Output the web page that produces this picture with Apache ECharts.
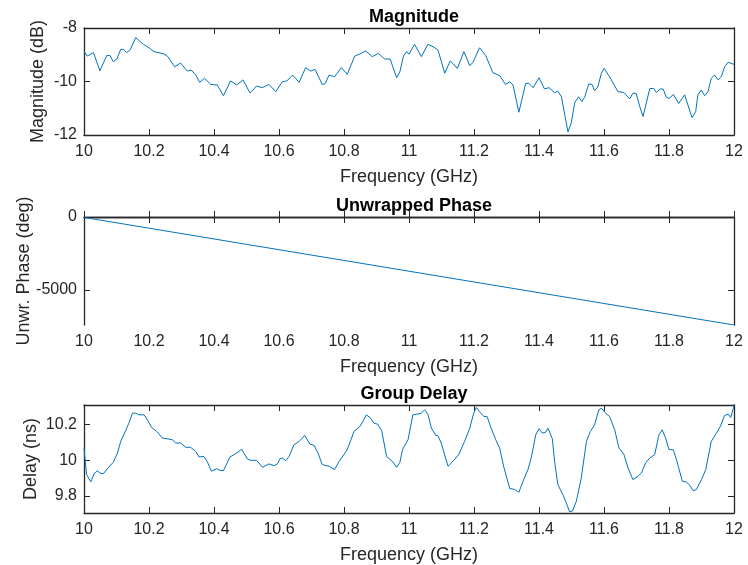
<!DOCTYPE html>
<html><head><meta charset="utf-8">
<script src="https://cdn.jsdelivr.net/npm/echarts@6/dist/echarts.min.js"></script>
<style>html,body{margin:0;padding:0;background:#fff}#c{width:748px;height:565px}</style>
</head><body><div id="c"></div>
<script>
const xTicks = ['10','10.2','10.4','10.6','10.8','11','11.2','11.4','11.6','11.8','12'];
const titles = ['Magnitude','Unwrapped Phase','Group Delay'];
const yNames = ['Magnitude (dB)','Unwr. Phase (deg)','Delay (ns)'];
const xName = 'Frequency (GHz)';

const magFreq = [10.000,10.010,10.029,10.049,10.070,10.080,10.090,10.101,10.113,10.121,10.131,10.142,10.159,10.169,10.183,10.200,10.215,10.246,10.258,10.279,10.297,10.318,10.330,10.344,10.356,10.371,10.390,10.410,10.429,10.451,10.470,10.489,10.511,10.531,10.549,10.569,10.590,10.610,10.624,10.642,10.662,10.682,10.697,10.711,10.733,10.742,10.754,10.771,10.792,10.810,10.833,10.849,10.867,10.887,10.906,10.925,10.942,10.962,10.972,10.983,10.993,11.000,11.017,11.038,11.058,11.074,11.089,11.110,11.127,11.149,11.169,11.187,11.197,11.217,11.236,11.258,11.279,11.297,11.310,11.320,11.338,11.359,11.369,11.382,11.400,11.417,11.431,11.448,11.458,11.469,11.489,11.499,11.510,11.522,11.532,11.541,11.553,11.563,11.571,11.581,11.592,11.600,11.617,11.643,11.661,11.679,11.689,11.699,11.710,11.720,11.741,11.753,11.761,11.773,11.782,11.792,11.802,11.813,11.830,11.848,11.871,11.882,11.889,11.899,11.910,11.920,11.930,11.940,11.951,11.961,11.971,11.982,12.000];
const magDb = [-8.86,-9.05,-8.92,-9.60,-9.03,-9.03,-9.26,-9.16,-8.80,-8.80,-8.92,-8.82,-8.36,-8.47,-8.61,-8.74,-8.88,-8.97,-9.07,-9.45,-9.31,-9.61,-9.57,-9.76,-10.03,-9.88,-10.11,-10.13,-10.53,-9.98,-10.13,-9.94,-10.43,-10.17,-10.23,-10.11,-10.38,-10.01,-9.98,-9.76,-10.03,-9.48,-9.61,-9.55,-10.11,-10.08,-9.76,-9.82,-9.48,-9.73,-9.05,-8.97,-8.86,-9.07,-8.95,-9.16,-9.16,-9.86,-9.63,-9.05,-8.88,-8.98,-8.61,-9.07,-8.61,-8.70,-8.82,-9.69,-9.23,-9.51,-8.88,-9.41,-9.28,-8.74,-9.03,-9.67,-9.78,-10.11,-10.01,-10.13,-11.15,-10.07,-10.07,-10.23,-9.86,-10.28,-10.23,-10.42,-10.36,-10.57,-11.88,-11.56,-10.79,-10.57,-10.75,-10.57,-10.09,-10.11,-10.34,-10.20,-9.69,-9.51,-9.82,-10.38,-10.41,-10.65,-10.44,-10.44,-10.94,-11.31,-10.26,-10.26,-10.41,-10.28,-10.28,-10.60,-10.63,-10.48,-10.82,-10.50,-11.35,-11.13,-10.50,-10.32,-10.53,-10.38,-9.88,-9.76,-9.94,-9.82,-9.45,-9.28,-9.36];

const phaseFreq = [10, 10.5, 11, 11.5, 12];
const phaseDeg = [-30, -1877, -3725, -5572, -7420];

const gdFreq = [10.000,10.008,10.021,10.031,10.041,10.052,10.060,10.072,10.090,10.103,10.113,10.128,10.138,10.149,10.159,10.169,10.185,10.195,10.208,10.224,10.241,10.256,10.272,10.282,10.297,10.313,10.328,10.344,10.354,10.369,10.379,10.392,10.408,10.418,10.429,10.449,10.462,10.477,10.485,10.503,10.513,10.531,10.549,10.569,10.585,10.595,10.603,10.610,10.621,10.631,10.646,10.662,10.679,10.695,10.708,10.720,10.733,10.754,10.771,10.785,10.810,10.831,10.849,10.859,10.869,10.882,10.892,10.903,10.916,10.931,10.949,10.962,10.972,10.980,10.997,11.012,11.028,11.038,11.048,11.058,11.069,11.082,11.089,11.099,11.120,11.135,11.153,11.171,11.187,11.199,11.207,11.217,11.230,11.240,11.253,11.267,11.279,11.291,11.310,11.325,11.338,11.351,11.366,11.376,11.390,11.400,11.410,11.420,11.428,11.441,11.448,11.458,11.474,11.484,11.494,11.503,11.515,11.530,11.546,11.558,11.571,11.584,11.592,11.605,11.617,11.633,11.646,11.661,11.674,11.689,11.705,11.715,11.728,11.741,11.756,11.769,11.779,11.789,11.800,11.813,11.823,11.841,11.853,11.864,11.874,11.884,11.900,11.913,11.930,11.944,11.958,11.971,11.982,11.990,12.000];
const gdNs = [10.069,9.920,9.879,9.924,9.942,9.926,9.926,9.953,9.989,10.041,10.106,10.166,10.208,10.264,10.264,10.255,10.255,10.227,10.184,10.162,10.125,10.121,10.115,10.097,10.097,10.073,10.073,10.050,10.019,10.022,9.994,9.939,9.953,9.944,9.942,10.019,10.032,10.050,10.063,10.007,10.000,10.000,9.961,9.980,9.970,9.980,10.009,10.013,9.998,10.022,10.087,10.106,10.140,10.091,10.084,10.041,9.976,9.967,9.948,9.994,10.060,10.162,10.190,10.221,10.255,10.236,10.208,10.203,10.166,10.022,9.994,9.961,9.989,10.060,10.115,10.255,10.260,10.264,10.283,10.259,10.180,10.140,10.138,10.097,9.967,9.994,10.032,10.106,10.180,10.264,10.296,10.273,10.246,10.246,10.180,10.115,10.069,9.967,9.842,9.837,9.821,9.883,9.948,10.013,10.143,10.177,10.153,10.157,10.180,10.121,9.994,9.864,9.805,9.762,9.712,9.716,9.771,9.901,10.106,10.162,10.199,10.283,10.292,10.264,10.246,10.171,10.069,10.035,9.957,9.892,9.911,9.929,9.985,10.013,10.032,10.143,10.171,10.128,10.060,10.060,10.004,9.883,9.879,9.860,9.830,9.836,9.892,9.948,10.106,10.147,10.190,10.251,10.259,10.240,10.305];

const zip = (a, b) => a.map((v, i) => [v, b[i]]);

const AX = '#262626';
const FONT = '"Liberation Sans", Arial, Helvetica, sans-serif';

const grids = [
  {left: 84, right: 14, top: 28, height: 107},
  {left: 84, right: 14, top: 217, height: 108},
  {left: 84, right: 14, top: 405, height: 109}
];
const yCfg = [
  {min: -12, max: -8, interval: 2, nameGap: 37},
  {min: -7420, max: 0, custom: [-5000, 0], nameGap: 51},
  {min: 9.705, max: 10.31, custom: [9.8, 10, 10.2], nameGap: 44, fmt: v => v === 10 ? '10' : v.toFixed(1)}
];

const xAxis = [], yAxis = [], series = [], title = [];
grids.forEach((g, i) => {
  xAxis.push({
    gridIndex: i, type: 'value', min: 10, max: 12, interval: 0.2, position: 'bottom',
    name: xName, nameLocation: 'middle', nameGap: 33, nameMoveOverlap: false,
    nameTextStyle: {color: AX, fontFamily: FONT, fontSize: 18},
    axisLine: {show: true, lineStyle: {color: AX, width: 1.3}},
    axisTick: {show: true, inside: true, length: 6, lineStyle: {color: AX}},
    axisLabel: {color: AX, fontFamily: FONT, fontSize: 16, margin: 9,
      formatter: v => xTicks[Math.round((v - 10) / 0.2)]},
    splitLine: {show: false}
  });
  xAxis.push({
    gridIndex: i, type: 'value', min: 10, max: 12, interval: 0.2, position: 'top',
    axisLine: {show: true, lineStyle: {color: AX, width: 1.3}},
    axisTick: {show: true, inside: true, length: 6, lineStyle: {color: AX}},
    axisLabel: {show: false}, splitLine: {show: false}
  });
  const c = yCfg[i];
  const left = {
    gridIndex: i, type: 'value', min: c.min, max: c.max, position: 'left',
    name: yNames[i], nameLocation: 'middle', nameGap: c.nameGap, nameRotate: 90,
    nameMoveOverlap: false,
    nameTextStyle: {color: AX, fontFamily: FONT, fontSize: 18},
    axisLine: {show: true, lineStyle: {color: AX, width: 1.3}},
    axisTick: {show: true, inside: true, length: 6, lineStyle: {color: AX}},
    axisLabel: {color: AX, fontFamily: FONT, fontSize: 16, margin: 7, formatter: v => String(v)},
    splitLine: {show: false}
  };
  const right = {
    gridIndex: i, type: 'value', min: c.min, max: c.max, position: 'right',
    axisLine: {show: true, lineStyle: {color: AX, width: 1.3}},
    axisTick: {show: true, inside: true, length: 6, lineStyle: {color: AX}},
    axisLabel: {show: false}, splitLine: {show: false}
  };
  if (c.interval) { left.interval = c.interval; right.interval = c.interval; }
  if (c.custom) {
    left.axisLabel.customValues = c.custom; left.axisTick.customValues = c.custom;
    right.axisTick.customValues = c.custom; right.axisLabel.customValues = c.custom;
  }
  if (c.fmt) left.axisLabel.formatter = c.fmt;
  yAxis.push(left, right);
  title.push({
    text: titles[i], left: 409, textAlign: 'center', top: g.top - 25,
    textStyle: {fontFamily: FONT, fontWeight: 'bold', fontSize: 18, color: '#000'}
  });
});

series.push({type: 'line', xAxisIndex: 0, yAxisIndex: 0, data: zip(magFreq, magDb)});
series.push({type: 'line', xAxisIndex: 2, yAxisIndex: 2, data: zip(phaseFreq, phaseDeg)});
series.push({type: 'line', xAxisIndex: 4, yAxisIndex: 4, data: zip(gdFreq, gdNs)});
series.forEach(s => { s.showSymbol = false; s.symbol = 'none'; s.animation = false;
  s.lineStyle = {color: '#0072BD', width: 1}; s.clip = true; });

const chart = echarts.init(document.getElementById('c'), null, {renderer: 'canvas'});
chart.setOption({animation: false, grid: grids, xAxis, yAxis, series, title});
</script></body></html>
